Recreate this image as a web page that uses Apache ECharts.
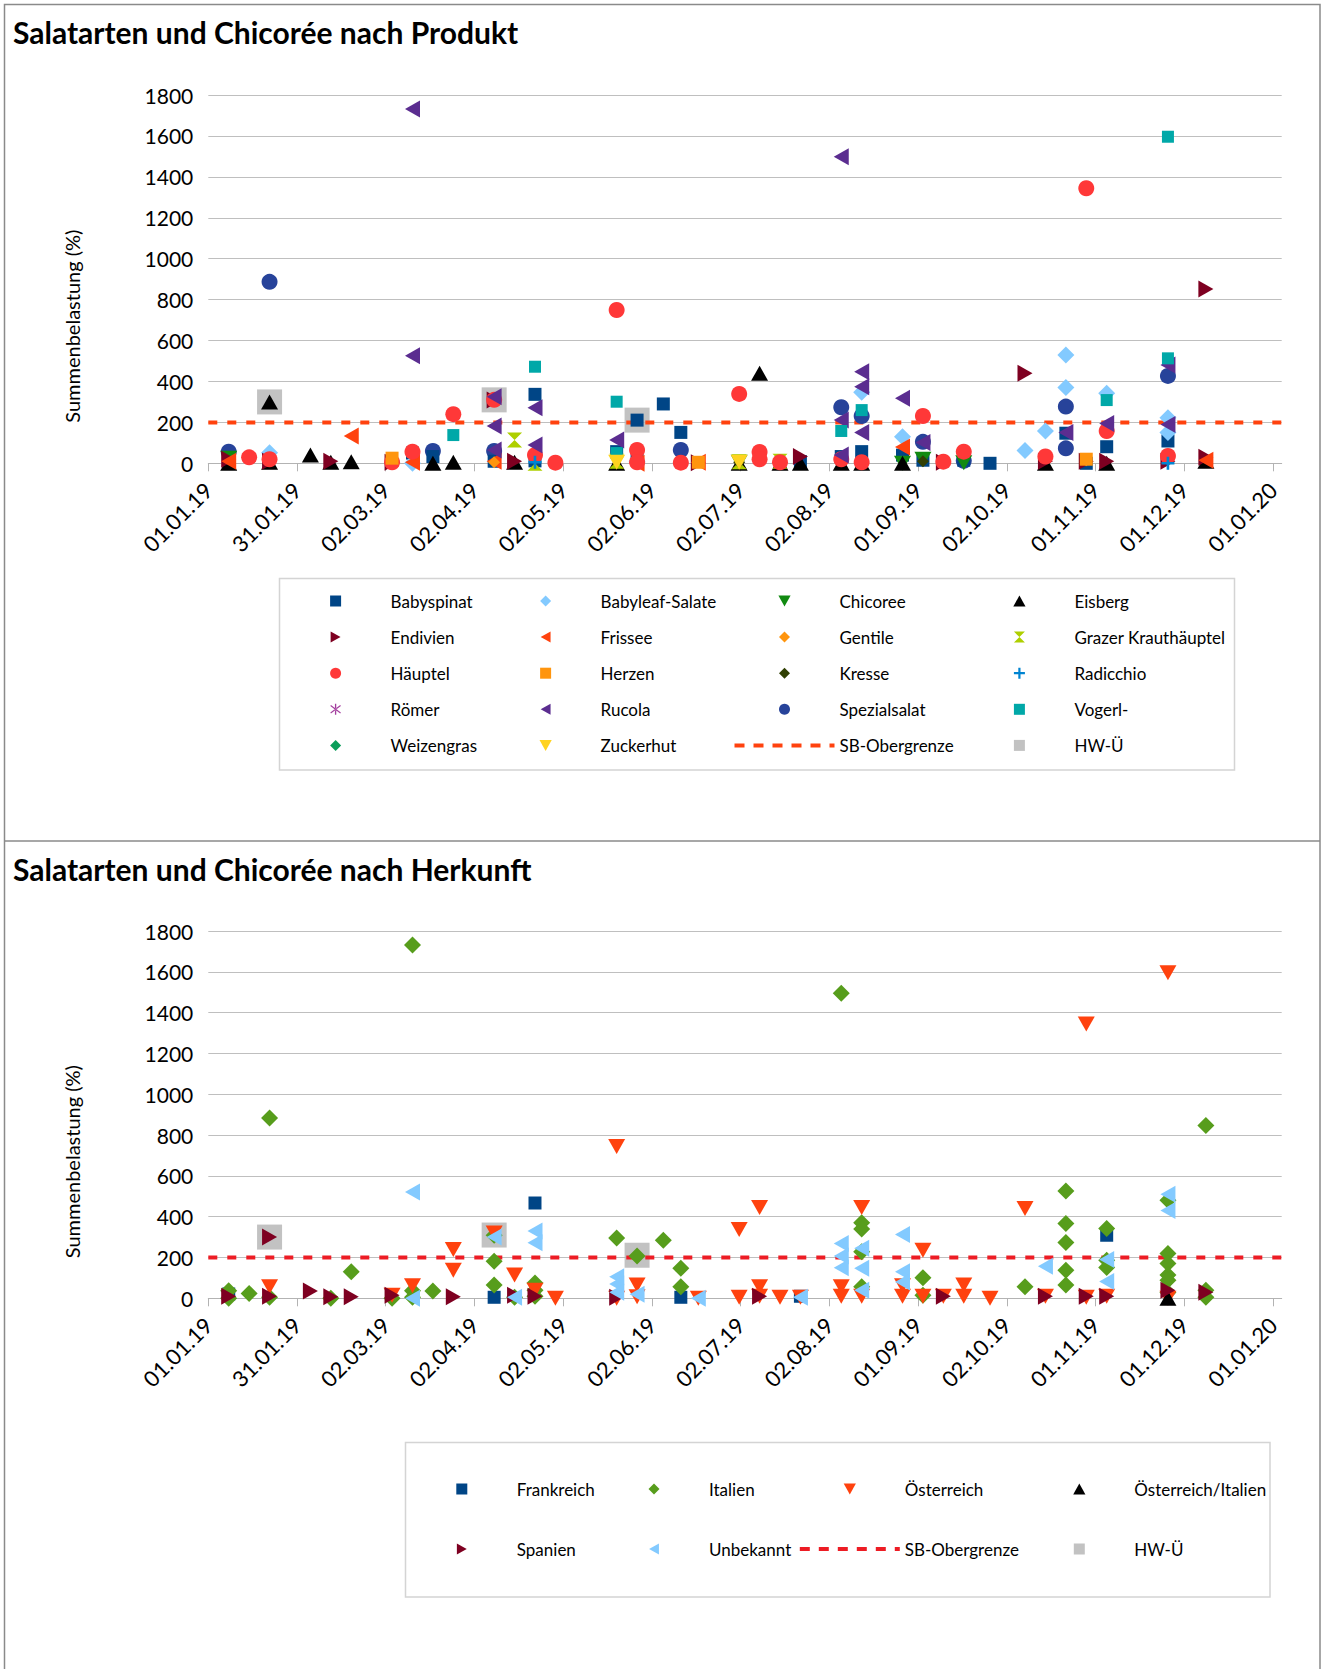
<!DOCTYPE html>
<html><head><meta charset="utf-8">
<script src="https://cdn.jsdelivr.net/npm/echarts@6/dist/echarts.min.js"></script>
<style>
html,body{margin:0;padding:0;background:#fff;}
#c1{position:absolute;left:0;top:0;width:1321px;height:841px;}
#c2{position:absolute;left:0;top:841px;width:1321px;height:828px;}
</style></head>
<body><div id="c1"></div><div id="c2"></div>
<script>
// ---------- tick labels ----------
const xTickLabels = ['01.01.19','31.01.19','02.03.19','02.04.19','02.05.19','02.06.19','02.07.19','02.08.19','01.09.19','02.10.19','01.11.19','01.12.19','01.01.20'];
const sbLimit = 200;

// ---------- chart 1 : by product ([date dd.mm 2019, Summenbelastung %]) ----------
const babyspinat = [['08.01',20],['12.03',50],['19.03',33],['09.04',10],['23.04',337],['23.04',12],['21.05',57],['28.05',211],['28.05',33],['06.06',290],['12.06',151],['23.07',8],['06.08',33],['13.08',57],['27.08',40],['03.09',15],['17.09',15],['26.09',0],['22.10',147],['29.10',0],['05.11',81],['26.11',109]];
const babyleaf = [['22.01',52],['12.03',0],['28.05',10],['13.08',347],['27.08',130],['08.10',62],['15.10',158],['22.10',529],['22.10',371],['05.11',342],['26.11',223],['26.11',150]];
const chicoree = [['08.01',25],['02.07',5],['27.08',0],['03.09',20],['17.09',3]];
const eisberg = [['08.01',0],['22.01',300],['22.01',5],['05.02',40],['12.02',5],['19.02',8],['19.03',0],['26.03',5],['16.04',5],['21.05',0],['02.07',0],['09.07',440],['16.07',0],['23.07',0],['06.08',0],['13.08',0],['27.08',0],['15.10',0],['05.11',0],['09.12',10]];
const endivien = [['08.01',20],['22.01',10],['12.02',10],['05.03',5],['09.04',309],['16.04',10],['18.06',3],['23.07',33],['10.09',5],['08.10',440],['15.10',10],['29.10',10],['05.11',10],['26.11',10],['09.12',852],['09.12',30]];
const frissee = [['08.01',10],['19.02',133],['12.03',5],['09.04',10],['28.05',0],['18.06',5],['27.08',80],['09.12',15]];
const gentile = [['05.03',20],['09.04',5],['29.10',15]];
const grazer = [['16.04',114],['23.04',0],['21.05',10],['02.07',8],['16.07',10]];
const haeuptel = [['15.01',29],['22.01',20],['05.03',5],['12.03',57],['26.03',240],['09.04',310],['23.04',40],['30.04',3],['21.05',749],['28.05',65],['28.05',5],['12.06',3],['02.07',339],['09.07',55],['09.07',20],['16.07',5],['06.08',20],['13.08',5],['03.09',231],['10.09',8],['17.09',57],['15.10',33],['29.10',1344],['05.11',158],['26.11',36]];
const herzen = [['05.03',25],['18.06',5],['29.10',20]];
const kresse = [['02.07',5],['03.09',10]];
const radicchio = [['23.04',5],['26.11',0]];
const roemer = [];
const rucola = [['12.03',1731],['12.03',526],['09.04',325],['09.04',182],['09.04',65],['23.04',272],['23.04',89],['21.05',114],['06.08',1498],['06.08',212],['06.08',40],['13.08',448],['13.08',374],['13.08',151],['27.08',318],['03.09',102],['22.10',150],['05.11',195],['26.11',480],['26.11',190]];
const spezialsalat = [['08.01',57],['22.01',887],['19.03',60],['09.04',60],['12.06',65],['06.08',274],['13.08',231],['03.09',105],['17.09',12],['22.10',277],['22.10',73],['26.11',427]];
const vogerl = [['26.03',138],['23.04',472],['21.05',301],['21.05',50],['06.08',158],['13.08',260],['05.11',309],['26.11',1596],['26.11',513]];
const weizengras = [];
const zuckerhut = [['21.05',5],['02.07',5]];
const hwUe = [['22.01',300],['09.04',310],['28.05',211]];

// ---------- chart 2 : by origin ----------
const frankreich = [['08.01',21],['09.04',5],['23.04',467],['12.06',5],['23.07',10],['05.11',309]];
const italien = [['08.01',37],['08.01',0],['15.01',24],['22.01',883],['22.01',5],['12.02',0],['19.02',130],['05.03',0],['12.03',1731],['12.03',37],['12.03',5],['19.03',36],['09.04',309],['09.04',182],['09.04',65],['16.04',5],['23.04',10],['23.04',75],['23.04',40],['21.05',296],['28.05',207],['06.06',285],['12.06',147],['12.06',57],['06.08',1495],['13.08',370],['13.08',340],['13.08',228],['13.08',57],['03.09',101],['03.09',15],['08.10',57],['22.10',526],['22.10',366],['22.10',274],['22.10',138],['22.10',65],['05.11',342],['05.11',187],['05.11',151],['26.11',480],['26.11',220],['26.11',171],['26.11',114],['26.11',89],['26.11',28],['09.12',847],['09.12',40],['09.12',5]];
const oesterreich = [['22.01',57],['05.03',15],['12.03',62],['26.03',239],['26.03',138],['09.04',320],['16.04',114],['23.04',40],['30.04',0],['21.05',744],['21.05',0],['28.05',65],['28.05',8],['18.06',0],['02.07',337],['02.07',5],['09.07',445],['09.07',57],['09.07',10],['16.07',5],['23.07',5],['06.08',57],['06.08',10],['13.08',445],['13.08',10],['27.08',62],['27.08',10],['03.09',236],['03.09',10],['10.09',10],['17.09',65],['17.09',10],['26.09',0],['08.10',440],['15.10',10],['29.10',1344],['29.10',5],['05.11',10],['26.11',1596],['26.11',0]];
const oesterreichItalien = [['26.11',0]];
const spanien = [['08.01',10],['22.01',301],['22.01',10],['05.02',36],['12.02',8],['19.02',8],['05.03',15],['26.03',8],['16.04',15],['23.04',10],['21.05',5],['09.07',10],['10.09',10],['15.10',10],['29.10',10],['05.11',10],['26.11',40],['09.12',30]];
const unbekannt = [['12.03',521],['12.03',0],['09.04',300],['16.04',5],['23.04',330],['23.04',272],['21.05',105],['21.05',70],['21.05',30],['28.05',20],['18.06',0],['23.07',5],['06.08',269],['06.08',207],['06.08',150],['13.08',245],['13.08',147],['13.08',40],['27.08',313],['27.08',130],['27.08',80],['15.10',157],['05.11',190],['05.11',82],['26.11',510],['26.11',430]];
const hwUe2 = [['22.01',300],['09.04',310],['28.05',211]];

// ---------- helpers ----------
const FONT = 'Lato, "Open Sans", sans-serif';
const X_MAX = 368;
const tickStep = 365 / 12;
const tickVals = xTickLabels.map((_, i) => i * tickStep);
function dayOf(s) {
  const [d, m] = s.split('.').map(Number);
  return (Date.UTC(2019, m - 1, d) - Date.UTC(2019, 0, 1)) / 86400000;
}
const toXY = arr => arr.map(([d, v]) => [dayOf(d), v]);

const SYM = {
  square: 'path://M0,0H10V10H0Z',
  circle: 'circle',
  diamond: 'path://M5,0L10,5L5,10L0,5Z',
  up: 'path://M5,0L10,9L0,9Z',
  down: 'path://M0,0L10,0L5,9Z',
  left: 'path://M9,0L9,10L0,5Z',
  right: 'path://M0,0L0,10L9,5Z',
  hourglass: 'path://M0,0L10,0L5,5Z M5,5L10,10L0,10Z',
  plus: 'path://M4,0H6V4H10V6H6V10H4V6H0V4H4Z',
  star: 'path://M4.4,0H5.6V10H4.4Z M0.2,2.1L0.8,1.1L9.8,7.9L9.2,8.9Z M0.2,7.9L0.8,8.9L9.8,2.1L9.2,1.1Z'
};
const SIZE = { square: 13, circle: 16, diamond: 17, up: [17, 15], down: [17, 15], left: [15, 17], right: [15, 17], hourglass: 15, plus: 13, star: 13 };

function scatter(name, data, shape, color, size) {
  return { name, type: 'scatter', data: toXY(data), symbol: SYM[shape], symbolSize: size || SIZE[shape],
    itemStyle: { color, opacity: 1 }, z: 3, silent: true, emphasis: { disabled: true } };
}
function hwSeries(data) {
  return { name: 'HW-Ü', type: 'scatter', data: toXY(data), symbol: SYM.square, symbolSize: 25,
    itemStyle: { color: '#b3b3b3' }, z: 1, silent: true, emphasis: { disabled: true } };
}
function sbSeries(color) {
  return { name: 'SB-Obergrenze', type: 'line', data: [[0, sbLimit], [X_MAX, sbLimit]], symbol: 'none', showSymbol: false,
    lineStyle: { color, width: 4, type: [9, 10] }, itemStyle: { color: 'rgba(0,0,0,0)' }, z: 2, silent: true };
}
const ITEM_W = 100, ITEM_H = 11;
function legendCols(cols, centers, top, gap) {
  return cols.map((names, i) => {
    // a column whose icons are all small is laid out from its first visible icon pixel
    const hasLine = names.includes('SB-Obergrenze');
    const left = hasLine ? centers[i] - ITEM_W / 2 : centers[i] - ITEM_H / 2;
    return {
      orient: 'vertical', left, top, padding: 0, itemWidth: ITEM_W, itemHeight: ITEM_H,
      itemGap: gap, selectedMode: false, symbolRotate: 0,
      lineStyle: { width: 4, type: [10, 9] },
      data: names.map(n => n === 'SB-Obergrenze' ? { name: n, itemStyle: { color: 'rgba(0,0,0,0)', opacity: 0 } } : n),
      textStyle: { fontFamily: FONT, fontSize: 17, color: '#000', lineHeight: 20 }
    };
  });
}
function baseOption(o) {
  return {
    animation: false,
    title: { text: o.title, left: 13, top: o.titleTop, padding: 0,
      textStyle: { fontFamily: FONT, fontWeight: 'bold', fontSize: 30, color: '#000' } },
    grid: { left: 208.3, top: o.gridTop, width: 1073.4, height: o.gridH },
    xAxis: { type: 'value', min: 0, max: X_MAX,
      axisLine: { show: true, onZero: false, lineStyle: { color: '#b3b3b3', width: 1 } },
      axisTick: { show: true, length: 8, customValues: tickVals, lineStyle: { color: '#b3b3b3' } },
      axisLabel: { customValues: tickVals, rotate: 45, margin: 23, fontFamily: FONT, fontSize: 22, color: '#000',
        formatter: v => xTickLabels[Math.round(v / tickStep)] },
      splitLine: { show: false } },
    yAxis: { type: 'value', min: 0, max: 1800, interval: 200,
      axisLine: { show: false }, axisTick: { show: false },
      splitLine: { lineStyle: { color: '#bfbfbf', width: 1 } },
      axisLabel: { margin: 15, fontFamily: FONT, fontSize: 21, color: '#000', formatter: v => String(v) },
      name: 'Summenbelastung (%)', nameLocation: 'middle', nameGap: 126, nameRotate: 90,
      nameTextStyle: { fontFamily: FONT, fontSize: 20, color: '#000', padding: [0, 94, 0, 0] } },
    legend: o.legend,
    graphic: o.graphic,
    series: o.series
  };
}

// ---------- chart 1 ----------
const c1 = echarts.init(document.getElementById('c1'), null, { renderer: 'svg' });
c1.setOption(baseOption({
  title: 'Salatarten und Chicorée nach Produkt', titleTop: 17,
  gridTop: 95, gridH: 368.3,
  legend: legendCols([
    ['Babyspinat', 'Endivien', 'Häuptel', 'Römer', 'Weizengras'],
    ['Babyleaf-Salate', 'Frissee', 'Herzen', 'Rucola', 'Zuckerhut'],
    ['Chicoree', 'Gentile', 'Kresse', 'Spezialsalat', 'SB-Obergrenze'],
    ['Eisberg', 'Grazer Krauthäuptel', 'Radicchio', 'Vogerl-', 'HW-Ü']
  ], [335.6, 545, 782.5, 1018.8], 591, 16.1),
  graphic: [
    { type: 'rect', shape: { x: 4.5, y: 4.5, width: 1315.5, height: 836.5 }, style: { fill: 'none', stroke: '#8a8a8a', lineWidth: 1.5 }, silent: true },
    { type: 'rect', shape: { x: 279.5, y: 578.5, width: 955, height: 191.5 }, style: { fill: 'none', stroke: '#d4d4d4', lineWidth: 1.5 }, silent: true }
  ],
  series: [
    hwSeries(hwUe),
    sbSeries('#ff420e'),
    scatter('Spezialsalat', spezialsalat, 'circle', '#27439a'),
    scatter('Babyspinat', babyspinat, 'square', '#004586'),
    scatter('Babyleaf-Salate', babyleaf, 'diamond', '#83caff'),
    scatter('Chicoree', chicoree, 'down', '#118a11'),
    scatter('Eisberg', eisberg, 'up', '#000000'),
    scatter('Endivien', endivien, 'right', '#7e0021'),
    scatter('Frissee', frissee, 'left', '#ff420e'),
    scatter('Gentile', gentile, 'diamond', '#ff950e', 12),
    scatter('Grazer Krauthäuptel', grazer, 'hourglass', '#aecf00'),
    scatter('Häuptel', haeuptel, 'circle', '#ff3838'),
    scatter('Herzen', herzen, 'square', '#ff950e'),
    scatter('Kresse', kresse, 'diamond', '#314004', 12),
    scatter('Radicchio', radicchio, 'plus', '#0084d1'),
    scatter('Römer', roemer, 'star', '#a33e9e'),
    scatter('Rucola', rucola, 'left', '#5b2d90'),
    scatter('Vogerl-', vogerl, 'square', '#00a8a8', 12),
    scatter('Weizengras', weizengras, 'diamond', '#0b9e5a', 12),
    scatter('Zuckerhut', zuckerhut, 'down', '#ffd320')
  ]
}));

// ---------- chart 2 ----------
const c2 = echarts.init(document.getElementById('c2'), null, { renderer: 'svg' });
c2.setOption(baseOption({
  title: 'Salatarten und Chicorée nach Herkunft', titleTop: 13,
  gridTop: 90, gridH: 367.3,
  legend: legendCols([
    ['Frankreich', 'Spanien'],
    ['Italien', 'Unbekannt'],
    ['Österreich', 'SB-Obergrenze'],
    ['Österreich/Italien', 'HW-Ü']
  ], [461.8, 654, 847.8, 1078.7], 638, 40),
  graphic: [
    { type: 'rect', shape: { x: 4.5, y: 0, width: 1315.5, height: 900 }, style: { fill: 'none', stroke: '#8a8a8a', lineWidth: 1.5 }, silent: true },
    { type: 'rect', shape: { x: 405.5, y: 601.5, width: 864.5, height: 154.5 }, style: { fill: 'none', stroke: '#d4d4d4', lineWidth: 1.5 }, silent: true }
  ],
  series: [
    hwSeries(hwUe2),
    sbSeries('#ed1c24'),
    scatter('Frankreich', frankreich, 'square', '#004586'),
    scatter('Italien', italien, 'diamond', '#579d1c'),
    scatter('Österreich', oesterreich, 'down', '#ff420e'),
    scatter('Österreich/Italien', oesterreichItalien, 'up', '#000000'),
    scatter('Spanien', spanien, 'right', '#7e0021'),
    scatter('Unbekannt', unbekannt, 'left', '#83caff')
  ]
}));
</script></body></html>
